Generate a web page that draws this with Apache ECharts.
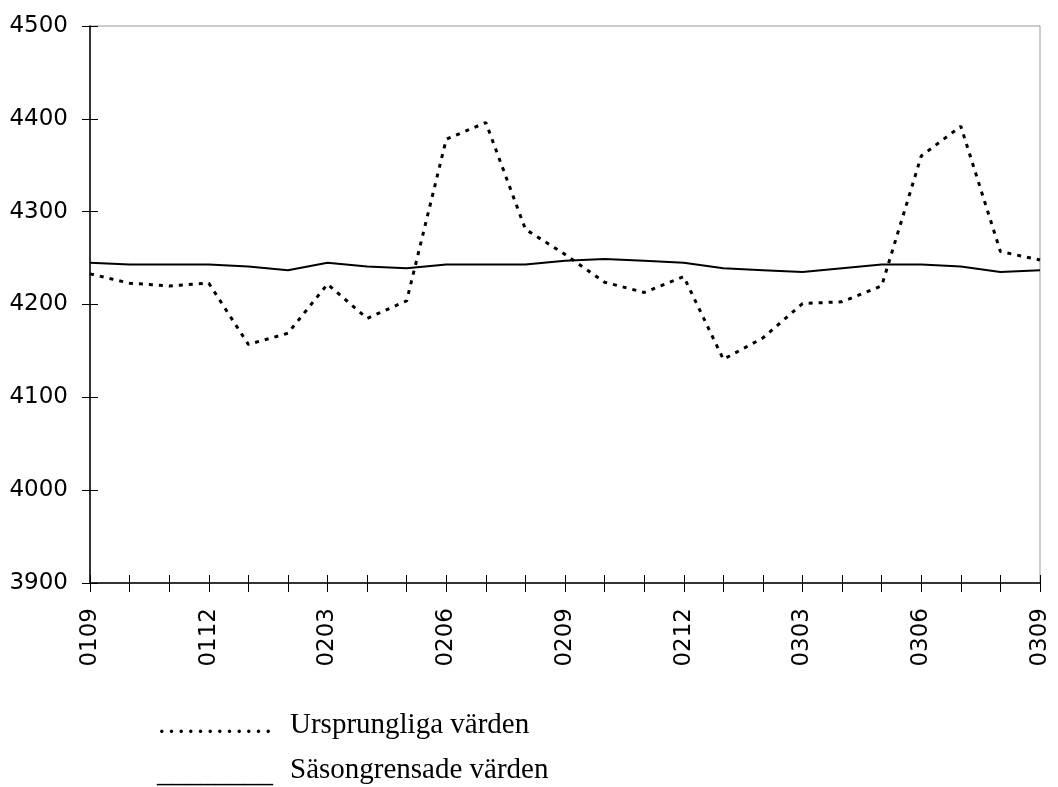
<!DOCTYPE html>
<html>
<head>
<meta charset="utf-8">
<script src="https://cdn.jsdelivr.net/npm/echarts@6/dist/echarts.min.js"></script>
<style>
html,body{margin:0;padding:0;background:#fff;}
#c{width:1058px;height:787px;}
</style>
</head>
<body>
<div id="c"></div>
<script>
const categories = ['0109','0110','0111','0112','0201','0202','0203','0204','0205','0206','0207','0208','0209','0210','0211','0212','0301','0302','0303','0304','0305','0306','0307','0308','0309'];
const ursprungliga = [4233,4223,4220,4223,4157,4169,4222,4185,4204,4378,4396,4281,4254,4224,4213,4230,4141,4164,4201,4203,4220,4360,4392,4257,4248];
const sasongrensade = [4245,4243,4243,4243,4241,4237,4245,4241,4239,4243,4243,4243,4247,4249,4247,4245,4239,4237,4235,4239,4243,4243,4241,4235,4237];
const yTicks = {min: 3900, max: 4500, interval: 100};
const legendLabels = ['Ursprungliga värden', 'Säsongrensade värden'];

const chart = echarts.init(document.getElementById('c'));
const labelFont = {fontFamily: '"DejaVu Sans", sans-serif', fontSize: 23, color: '#000'};
const serif = '29px "Liberation Serif", "Times New Roman", serif';
chart.setOption({
  animation: false,
  backgroundColor: '#fff',
  grid: {left: 90, right: 18, top: 26, bottom: 204, show: true, borderColor: '#999', borderWidth: 1, backgroundColor: 'transparent'},
  xAxis: [{
    type: 'category', data: categories, boundaryGap: false, position: 'bottom',
    axisLine: {lineStyle: {color: '#333', width: 2}},
    axisTick: {show: true, length: 9, interval: 0, lineStyle: {color: '#000', width: 1}},
    axisLabel: Object.assign({rotate: 90, interval: 2, margin: 25}, labelFont),
    splitLine: {show: false}
  }, {
    type: 'category', data: categories, boundaryGap: false, position: 'bottom', offset: 0,
    axisLine: {show: false},
    axisTick: {show: true, inside: true, length: 8, interval: 0, lineStyle: {color: '#000', width: 1}},
    axisLabel: {show: false}, splitLine: {show: false}
  }],
  yAxis: [{
    type: 'value', min: yTicks.min, max: yTicks.max, interval: yTicks.interval, position: 'left',
    axisLine: {show: true, lineStyle: {color: '#000', width: 1.5}},
    axisTick: {show: true, length: 8, lineStyle: {color: '#000', width: 1}},
    axisLabel: Object.assign({margin: 22, formatter: v => String(v)}, labelFont),
    splitLine: {show: false}
  }, {
    type: 'value', min: yTicks.min, max: yTicks.max, interval: yTicks.interval, position: 'left', offset: 0,
    axisLine: {show: false},
    axisTick: {show: true, inside: true, length: 8, lineStyle: {color: '#000', width: 1}},
    axisLabel: {show: false}, splitLine: {show: false}
  }],
  series: [{
    name: legendLabels[0], type: 'line', data: ursprungliga, xAxisIndex: 0, yAxisIndex: 0,
    symbol: 'none', lineStyle: {color: '#000', width: 3, type: [4, 6]}, z: 3
  }, {
    name: legendLabels[1], type: 'line', data: sasongrensade, xAxisIndex: 0, yAxisIndex: 0,
    symbol: 'none', lineStyle: {color: '#000', width: 2}, z: 2
  }],
  graphic: [
    {type: 'text', left: 157, top: 711, style: {text: '…………', font: serif, fill: '#000'}},
    {type: 'text', left: 290, top: 711, style: {text: legendLabels[0], font: serif, fill: '#000'}},
    {type: 'text', left: 157, top: 760, style: {text: '________', font: serif, fill: '#000'}},
    {type: 'text', left: 290, top: 756, style: {text: legendLabels[1], font: serif, fill: '#000'}}
  ]
});
</script>
</body>
</html>
